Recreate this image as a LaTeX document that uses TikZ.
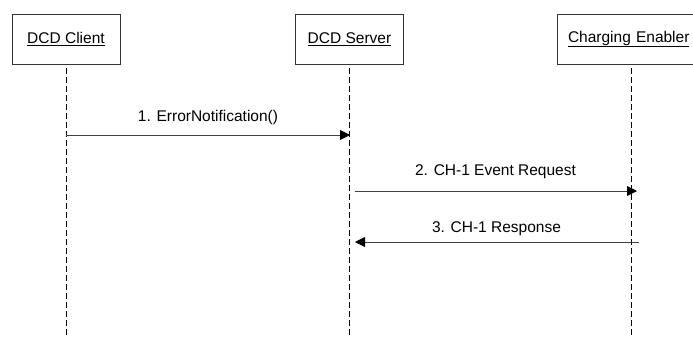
\documentclass[tikz,border=0pt]{standalone}
\usepackage{fontspec}
\setmainfont{Liberation Sans}
\usetikzlibrary{arrows.meta}
\begin{document}
\begin{tikzpicture}[x=1pt,y=-1pt,
  actor/.style={draw=black!80,line width=0.9pt,minimum width=108pt,minimum height=50pt,inner sep=0pt,font=\fontsize{15.5}{18}\selectfont},
  lifeline/.style={draw=black,line width=0.9pt,dash pattern=on 6pt off 3pt},
  msg/.style={draw=black!75,line width=0.9pt,-{Triangle[length=10pt,width=10pt,color=black]}},
  lbl/.style={font=\fontsize{15.5}{18}\selectfont,inner sep=0pt,anchor=base}]
\useasboundingbox (0,0) rectangle (693,338);
\clip (0,0) rectangle (693,338);
\node[actor] (client) at (66,39) {\underline{DCD Client}};
\node[actor] (server) at (349.5,39) {\underline{DCD Server}};
\node[actor,minimum width=148pt,text width=148pt,align=left] (ce) at (631,39) {\hspace{11pt}\underline{Charging Enabler}};
\coordinate (cb) at (66,338);
\coordinate (sb) at (349.5,338);
\coordinate (eb) at (631,338);
\draw[lifeline] ([yshift=-4pt]client.south) -- (cb);
\draw[lifeline] ([yshift=-4pt]server.south) -- (sb);
\draw[lifeline] ([yshift=-4pt]ce.south) -- (eb);
\coordinate (m1a) at (66,135);
\coordinate (m1b) at (350,135);
\coordinate (m2a) at (355,191);
\coordinate (m2b) at (637,191);
\coordinate (m3a) at (639,242);
\coordinate (m3b) at (355,242);
\draw[msg] (m1a) -- (m1b);
\draw[msg] (m2a) -- (m2b);
\draw[msg] (m3a) -- (m3b);
\node[lbl] (l1) at (208,121) {1. ErrorNotification()};
\node[lbl] (l2) at (495.5,175.5) {2. CH-1 Event Request};
\node[lbl] (l3) at (496.5,232) {3. CH-1 Response};
\end{tikzpicture}
\end{document}
